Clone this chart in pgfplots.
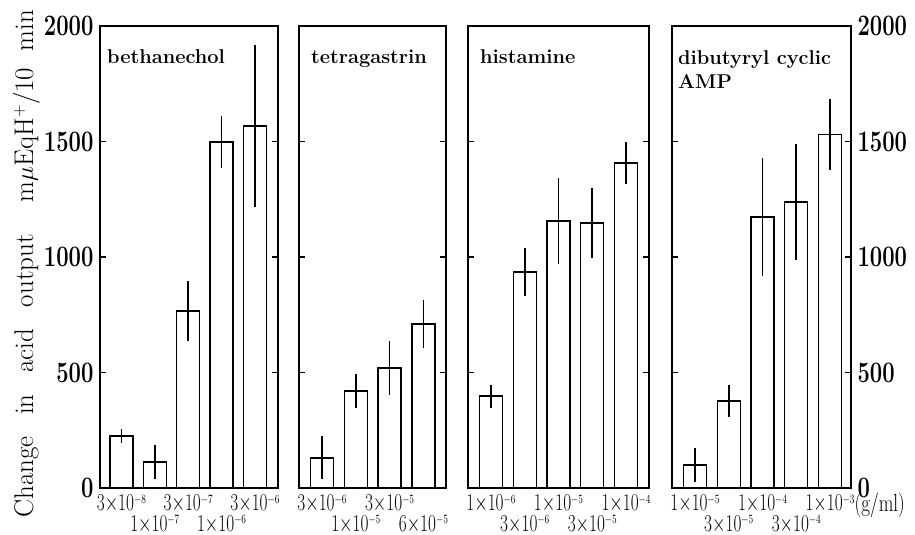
\documentclass[border=0pt]{standalone}
\usepackage{graphicx}
\usepackage{pgfplots}
\pgfplotsset{compat=1.18}
\newcommand{\lab}[2]{\smash{\scalebox{1}[1.4]{$#1{\times}10$\raisebox{5.5pt}{\fontsize{9.5}{10}\selectfont$#2$}}}}
\newcommand{\ra}[2]{\lab{#1}{#2}}
\newcommand{\rt}[2]{\raisebox{-20.5pt}{\lab{#1}{#2}}}
\newcommand{\yl}[1]{\scalebox{1}[1.35]{#1}}
\pgfplotsset{
 panel/.style={
  scale only axis, height=462pt, ymin=0, ymax=2000,
  ytick={0,500,1000,1500,2000}, yticklabels={},
  tick align=inside, major tick length=6pt,
  tick style={line width=1.1pt, black},
  xtick={0,1,2,3,4}, xtick style={draw=none},
  axis line style={line width=1.2pt},
  xticklabel style={font=\fontsize{17}{20.5}\selectfont, inner sep=0pt, anchor=base, yshift=-23pt},
  yticklabel style={font=\fontsize{22}{22}\selectfont\bfseries},
  clip=false,
 },
 bars/.style={ybar, bar width=23pt, fill=white, draw=black, line width=1.4pt,
   error bars/.cd, y dir=both, y explicit, error mark=none, error bar style={line width=1.6pt}},
}
\begin{document}
\begin{tikzpicture}
\useasboundingbox (0pt,0pt) rectangle (915pt,535pt);
% panel 1
\begin{axis}[panel, at={(100pt,47pt)}, anchor=south west, width=178pt, xmin=-0.64, xmax=4.69,
  yticklabels={\yl{0},\yl{500},\yl{1000},\yl{1500},\yl{2000}},
  yticklabel style={xshift=-3pt},
  xticklabels={{\ra{3}{-8}},{\rt{1}{-7}},{\ra{3}{-7}},{\rt{1}{-6}},{\ra{3}{-6}}}]
\addplot[bars] coordinates {(0,225) +- (0,30) (1,113) +- (0,73) (2,766) +- (0,130) (3,1498) +- (0,113) (4,1567) +- (0,351)};
\end{axis}
% panel 2
\begin{axis}[panel, at={(299pt,47pt)}, anchor=south west, width=147pt, xmin=-0.68, xmax=3.67,
  xtick={0,1,2,3},
  xticklabels={{\ra{3}{-6}},{\rt{1}{-5}},{\ra{3}{-5}},{\rt{6}{-5}}}]
\addplot[bars] coordinates {(0,130) +- (0,93) (1,420) +- (0,73) (2,520) +- (0,117) (3,710) +- (0,104)};
\end{axis}
% panel 3
\begin{axis}[panel, at={(468pt,47pt)}, anchor=south west, width=181pt, xmin=-0.68, xmax=4.68,
  xticklabels={{\ra{1}{-6}},{\rt{3}{-6}},{\ra{1}{-5}},{\rt{3}{-5}},{\ra{1}{-4}}}]
\addplot[bars] coordinates {(0,398) +- (0,50) (1,935) +- (0,106) (2,1156) +- (0,188) (3,1147) +- (0,150) (4,1407) +- (0,90)};
\end{axis}
% panel 4
\begin{axis}[panel, at={(672pt,47pt)}, anchor=south west, width=179pt, xmin=-0.68, xmax=4.62,
  yticklabel pos=right,
  yticklabels={\yl{0},\yl{500},\yl{1000},\yl{1500},\yl{2000}},
  yticklabel style={xshift=3pt},
  xticklabels={{\ra{1}{-5}},{\rt{3}{-5}},{\ra{1}{-4}},{\rt{3}{-4}},{\ra{1}{-3}\rlap{\fontsize{19}{20}\selectfont\smash{\scalebox{1}[1.3]{(g/ml)}}}}}]
\addplot[bars] coordinates {(0,100) +- (0,73) (1,377) +- (0,70) (2,1173) +- (0,255) (3,1238) +- (0,250) (4,1530) +- (0,155)};
\end{axis}
% panel titles
\begin{scope}[every node/.style={inner sep=0pt, font=\fontsize{20}{24}\selectfont\bfseries}]
\node[anchor=base west] at (107pt,471pt) {bethanechol};
\node[anchor=base west] at (311pt,471pt) {tetragastrin};
\node[anchor=base west] at (480pt,471pt) {histamine};
\node[anchor=base west] at (678pt,470pt) {dibutyryl cyclic};
\node[anchor=base west] at (678pt,446pt) {AMP};
\end{scope}
% y label
\begin{scope}[every node/.style={inner sep=0pt, rotate=90, font=\fontsize{27}{27}\selectfont}]
\node[anchor=base west] at (33pt,17pt) {Change\hspace{0.8em}in\hspace{0.8em}acid\hspace{0.8em}output};
\node[anchor=base east] at (33pt,525pt) {m$\mu$EqH$^{+}$/10\hspace{0.6em}min};
\end{scope}
\end{tikzpicture}
\end{document}
